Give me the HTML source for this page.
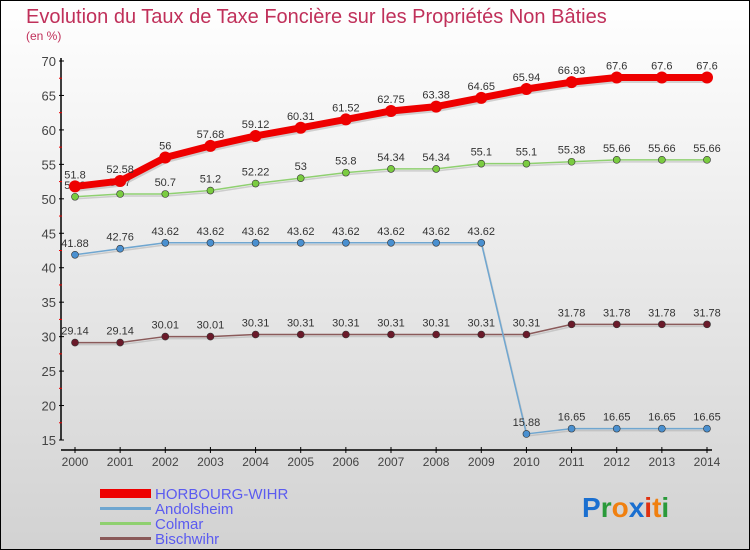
<!DOCTYPE html>
<html><head><meta charset="utf-8"><style>
body{margin:0}
svg{display:block;font-family:"Liberation Sans",sans-serif}
</style></head><body>
<svg width="750" height="550" viewBox="0 0 750 550">
<defs><linearGradient id="bg" x1="0" y1="0" x2="0" y2="1"><stop offset="0" stop-color="#ffffff"/><stop offset="1" stop-color="#d2d2d2"/></linearGradient></defs>
<rect x="0.5" y="0.5" width="749" height="549" fill="url(#bg)" stroke="#000"/>
<text x="26" y="23" font-size="20" fill="#c0305a">Evolution du Taux de Taxe Foncière sur les Propriétés Non Bâties</text>
<text x="26" y="40" font-size="12" fill="#c0305a">(en %)</text>
<g id="axes"></g>
<g id="series"></g>
<g id="legend">
<rect x="100" y="489" width="51" height="9" fill="#e00"/>
<text x="155" y="499" font-size="15" fill="#5b5bf0">HORBOURG-WIHR</text>
<rect x="100" y="507" width="51" height="3" fill="#6fa6d0"/>
<text x="155" y="514" font-size="15" fill="#5b5bf0">Andolsheim</text>
<rect x="100" y="522" width="51" height="3" fill="#8fd070"/>
<text x="155" y="529" font-size="15" fill="#5b5bf0">Colmar</text>
<rect x="100" y="537" width="51" height="3" fill="#8a5a5a"/>
<text x="155" y="544" font-size="15" fill="#5b5bf0">Bischwihr</text>
</g>
<g font-size="28" font-weight="bold">
<text x="582" y="517"><tspan fill="#1a6fd0">P</tspan><tspan fill="#2a9a3a">r</tspan><tspan fill="#f08010">o</tspan><tspan fill="#1a6fd0">x</tspan><tspan fill="#e03010">i</tspan><tspan fill="#f08010">t</tspan><tspan fill="#2a9a3a">i</tspan></text>
</g>
</svg>
<script>
const years=["2000","2001","2002","2003","2004","2005","2006","2007","2008","2009","2010","2011","2012","2013","2014"];
const yTicks=[15,20,25,30,35,40,45,50,55,60,65,70];
const horbourg=[51.8,52.58,56,57.68,59.12,60.31,61.52,62.75,63.38,64.65,65.94,66.93,67.6,67.6,67.6];
const andolsheim=[41.88,42.76,43.62,43.62,43.62,43.62,43.62,43.62,43.62,43.62,15.88,16.65,16.65,16.65,16.65];
const colmar=[50.3,50.7,50.7,51.2,52.22,53,53.8,54.34,54.34,55.1,55.1,55.38,55.66,55.66,55.66];
const bischwihr=[29.14,29.14,30.01,30.01,30.31,30.31,30.31,30.31,30.31,30.31,30.31,31.78,31.78,31.78,31.78];
const NS="http://www.w3.org/2000/svg";
function X(i){return 75+i*(707-75)/(years.length-1);}
function Y(v){return 440-(v-15)*(440-61)/55;}
function mk(tag,attrs,parent,txt){const e=document.createElementNS(NS,tag);for(const k in attrs)e.setAttribute(k,attrs[k]);if(txt!==undefined)e.textContent=txt;parent.appendChild(e);return e;}
const ax=document.getElementById('axes');
let e=mk('line',{x1:61,y1:58,x2:61,y2:440,stroke:'#000','stroke-width':1.5},ax);


e=mk('line',{x1:61,y1:450,x2:712,y2:450,stroke:'#000','stroke-width':1.5},ax);


yTicks.forEach(v=>{
 mk('line',{x1:59,y1:Y(v),x2:64,y2:Y(v),stroke:'#000'},ax);
 if(v<70){mk('line',{x1:59,y1:Y(v+2.5),x2:62,y2:Y(v+2.5),stroke:'#e00'},ax);}
 const t=mk('text',{x:56,y:Y(v)+5,'font-size':13,fill:'#444','text-anchor':'end'},ax,String(v));
 
 
});
years.forEach((y,i)=>{
 mk('line',{x1:X(i),y1:447,x2:X(i),y2:453,stroke:'#000'},ax);
 const t=mk('text',{x:X(i),y:466,'font-size':12,fill:'#444','text-anchor':'middle'},ax,y);
 
 
});
const sg=document.getElementById('series');
function draw(name,vals,color,w,r,dot){
 const g=mk('g',{},sg);
 
 
 const pts=vals.map((v,i)=>X(i)+','+Y(v)).join(' ');
 mk('polyline',{points:pts,fill:'none',stroke:'#aaa','stroke-width':w,transform:'translate(1,2)','stroke-opacity':0.5},g);
 mk('polyline',{points:pts,fill:'none',stroke:color,'stroke-width':w,'stroke-linejoin':'round'},g);
 vals.forEach((v,i)=>{
  const c=mk('circle',{cx:X(i),cy:Y(v),r:r,fill:dot,stroke:'#333','stroke-width':r>4?0:0.6},g);
  
  
  const t=mk('text',{x:X(i),y:Y(v)-8,'font-size':11,fill:'#333','text-anchor':'middle'},g,String(v));
  
  
 });
}
draw('bischwihr',bischwihr,'#8a5a5a',1.5,3.5,'#6a1a2a');
draw('andolsheim',andolsheim,'#6fa6d0',1.5,3.5,'#4a90d0');
draw('colmar',colmar,'#8fd070',1.5,3.5,'#7acc40');
draw('horbourg',horbourg,'#e00',7,6,'#e00');
</script>
</body></html>
